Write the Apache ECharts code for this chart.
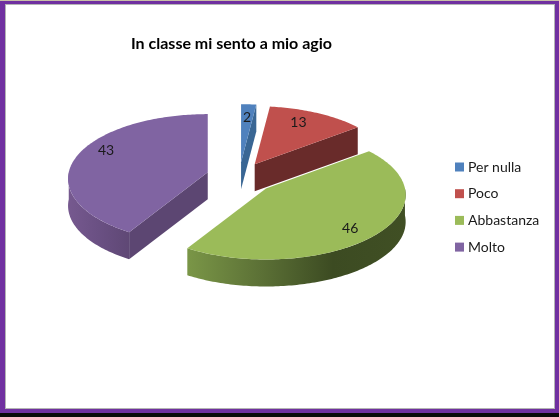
<!DOCTYPE html>
<html>
<head>
<meta charset="utf-8">
<title>In classe mi sento a mio agio</title>
<script src="https://cdn.jsdelivr.net/npm/echarts@6/dist/echarts.min.js"></script>
<style>
  html, body { margin: 0; padding: 0; background: #fff; }
  #chart { width: 559px; height: 417px; }
</style>
</head>
<body>
<div id="chart"></div>
<script>
const titleText = 'In classe mi sento a mio agio'
const categories = ['Per nulla', 'Poco', 'Abbastanza', 'Molto']
const values = [2, 13, 46, 43]

const topColors = ['#4f81bd', '#c0504d', '#9bbb59', '#8064a2']
const sideColors = ['#396694', '#692b2a', '#5a6e34', '#5c4672']
const rimColors = [
  ['#3d6c9e', '#2f5680'],
  ['#8a3a38', '#6a2a29'],
  ['#7a9647', '#5c7136', '#3c4b22', '#404f24'],
  ['#76598f', '#6a5083', '#5f4875']
]

// pie layout in pixels
const cx = 239, cy = 178
const rx = 139, ry = 64, tilt = 0.1, depth = 27, explode = 34
// small per-slice corrections, the label one is best-fit placement in the original
const sliceNudge = [[0, 0], [-1, 0], [1.5, 0], [1.5, -1.5]]
const labelNudge = [[0, 0], [-5, -2], [1, 6], [-2, -9]]

const total = values.reduce((a, b) => a + b, 0)
const toRad = (d) => d * Math.PI / 180

// disc point -> screen, a = degrees clockwise from 12 o'clock, r = 0..1
const project = (ox, oy, a, r) => {
  const x = Math.sin(toRad(a)) * r
  const z = -Math.cos(toRad(a)) * r
  const f = 1 / (1 - tilt * z)
  return [ox + rx * x * f, oy + ry * z * f]
}
const drop = (p) => [p[0], p[1] + depth]

const arcPoints = (ox, oy, a0, a1) => {
  const pts = []
  const n = Math.max(2, Math.ceil(a1 - a0))
  for (let i = 0; i <= n; i++) pts.push(project(ox, oy, a0 + (a1 - a0) * i / n, 1))
  return pts
}

const renderSlice = (index) => (params, api) => {
  const before = values.slice(0, index).reduce((a, b) => a + b, 0)
  const a0 = before / total * 360
  const a1 = (before + api.value(0)) / total * 360
  const mid = (a0 + a1) / 2
  const ox = cx + explode * Math.sin(toRad(mid)) + sliceNudge[index][0]
  const oy = cy - explode * Math.cos(toRad(mid)) * ry / rx + sliceNudge[index][1]
  const apex = [ox, oy]
  const children = []
  const poly = (points, fill) => children.push({
    type: 'polygon', shape: { points }, style: { fill, stroke: null }, silent: true
  })
  // radial walls, only the ones facing the viewer
  if (Math.cos(toRad(a0 - 90)) < -0.01) {
    const p = project(ox, oy, a0, 1)
    poly([apex, p, drop(p), drop(apex)], sideColors[index])
  }
  if (Math.cos(toRad(a1 + 90)) < -0.01) {
    const p = project(ox, oy, a1, 1)
    poly([apex, p, drop(p), drop(apex)], sideColors[index])
  }
  // outer wall on the front half of the rim
  const f0 = Math.max(a0, 90), f1 = Math.min(a1, 270)
  if (f1 > f0) {
    const rim = arcPoints(ox, oy, f0, f1)
    const stops = rimColors[index].map((c, i, l) => ({ offset: i / (l.length - 1), color: c })).reverse()
    poly(rim.concat(rim.map(drop).reverse()),
      new echarts.graphic.LinearGradient(0, 0, 1, 0, stops))
  }
  // top face
  poly([apex].concat(arcPoints(ox, oy, a0, a1)), topColors[index])
  const lp = project(ox, oy, mid, 0.76)
  children.push({
    type: 'text', silent: true, z2: 10,
    style: {
      x: lp[0] + labelNudge[index][0], y: lp[1] + labelNudge[index][1],
      text: String(api.value(0)), fill: '#1a1a1a',
      font: '14px Lato', align: 'center', verticalAlign: 'middle'
    }
  })
  return { type: 'group', children }
}

// frame of the slide
const frame = [
  { type: 'rect', shape: { x: 0, y: 0, width: 559, height: 417 }, style: { fill: '#7030a0' } },
  { type: 'rect', shape: { x: 0, y: 0, width: 559, height: 1 }, style: { fill: '#c9bfa8' } },
  { type: 'rect', shape: { x: 0, y: 413, width: 559, height: 4 }, style: { fill: '#0a0a0a' } },
  { type: 'rect', shape: { x: 5, y: 4, width: 550, height: 405 }, style: { fill: '#b4b4b4' } },
  { type: 'rect', shape: { x: 6, y: 5, width: 548, height: 403 }, style: { fill: '#ffffff' } }
].map((g) => Object.assign(g, { silent: true, z: -10 }))

const chart = echarts.init(document.getElementById('chart'), null, { renderer: 'canvas' })
chart.setOption({
  animation: false,
  backgroundColor: '#fff',
  title: {
    text: titleText,
    left: 126,
    top: 31,
    textStyle: { fontFamily: 'Lato', fontSize: 16, fontWeight: 'bold', color: '#000' }
  },
  legend: {
    orient: 'vertical',
    left: 450,
    top: 155,
    itemWidth: 9,
    itemHeight: 9,
    itemGap: 12.7,
    icon: 'rect',
    selectedMode: false,
    data: categories,
    textStyle: { fontFamily: 'Lato', fontSize: 14, color: '#1a1a1a', padding: [0, 0, 0, -1] }
  },
  graphic: frame,
  series: categories.map((name, i) => ({
    type: 'custom',
    name,
    coordinateSystem: 'none',
    itemStyle: { color: topColors[i] },
    renderItem: renderSlice(i),
    data: [[values[i]]]
  }))
})
</script>
</body>
</html>
